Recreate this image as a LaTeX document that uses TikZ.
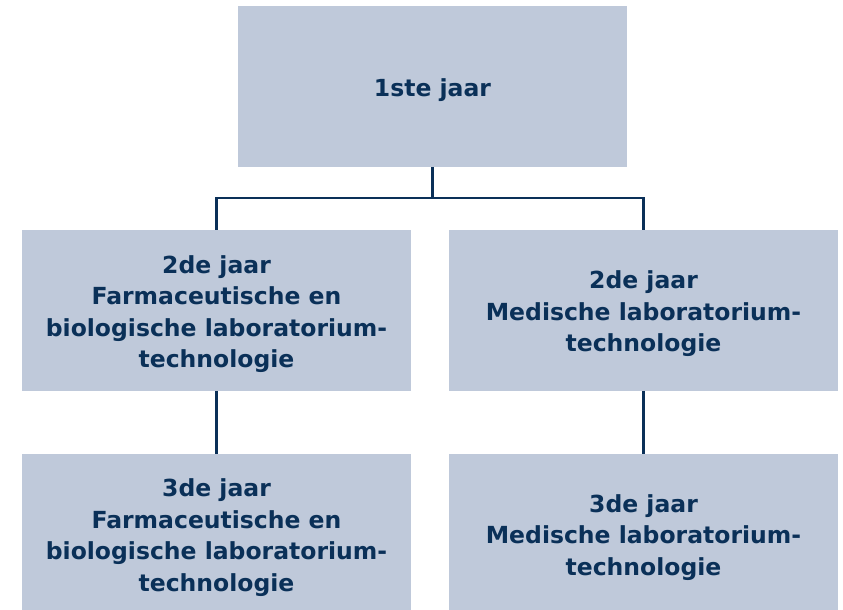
\documentclass[tikz,border=0pt]{standalone}
\usepackage{fontspec}
\setmainfont{DejaVu Sans}
\usetikzlibrary{calc}
\definecolor{boxfill}{RGB}{191,201,218}
\definecolor{navy}{RGB}{10,48,88}
\newcommand{\topstrut}{\rule{0pt}{25pt}}
\begin{document}
\begin{tikzpicture}[x=1pt,y=1pt,
  box/.style={fill=boxfill, draw=none, minimum width=389pt, minimum height=160.7pt,
    align=center, text=navy, font=\bfseries\fontsize{23.5}{31.5}\selectfont, inner sep=0pt},
  conn/.style={draw=navy, line width=2.4pt}]
\clip (0,0) rectangle (843,610);
\node[box] (top) at (432.5,523.6) {\topstrut 1ste jaar};
\node[box] (L2) at (216.5,299.7) {\topstrut 2de jaar\\Farmaceutische en\\biologische laboratorium-\\technologie};
\node[box] (R2) at (643.5,299.7) {\topstrut 2de jaar\\Medische laboratorium-\\technologie};
\node[box, minimum height=160pt] (L3) at (216.5,76) {\topstrut 3de jaar\\Farmaceutische en\\biologische laboratorium-\\technologie};
\node[box, minimum height=160pt] (R3) at (643.5,76) {\topstrut 3de jaar\\Medische laboratorium-\\technologie};
\coordinate (busL) at ($(L2.north)+(0,32)$);
\coordinate (busR) at ($(R2.north)+(0,32)$);
\coordinate (busT) at (top.south |- busL);
\draw[conn] (top.south) -- (busT);
\draw[conn] (L2.north) -- (busL) -- (busR) -- (R2.north);
\draw[conn] (L2.south) -- (L3.north);
\draw[conn] (R2.south) -- (R3.north);
\end{tikzpicture}
\end{document}
